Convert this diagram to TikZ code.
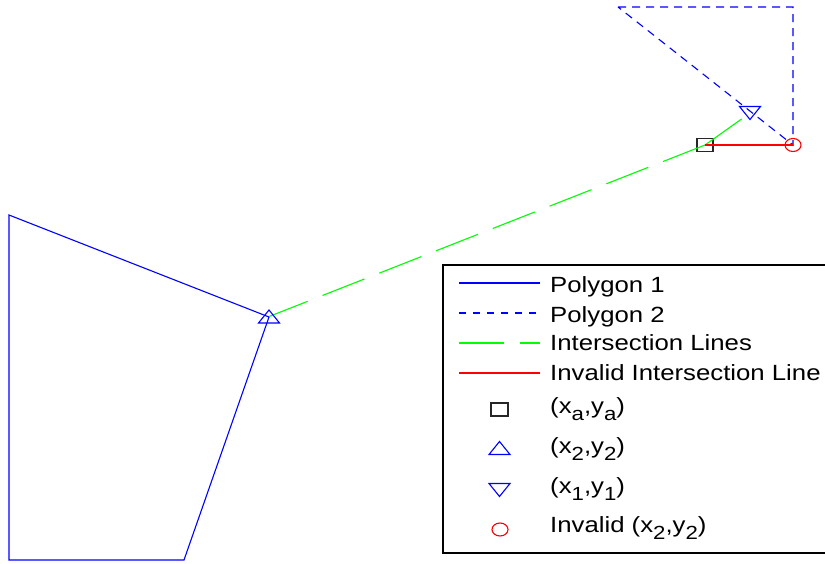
\documentclass[tikz,border=0pt]{standalone}
\usepackage{fontspec}
\setmainfont{Liberation Sans}
\usetikzlibrary{shapes.geometric}
\newcommand{\legtxt}[1]{\scalebox{1.17}[1]{\fontsize{22}{24}\selectfont #1}}
\newcommand{\sbx}[1]{\raisebox{-7pt}{\fontsize{19}{19}\selectfont #1}}
\definecolor{pblue}{RGB}{0,0,255}
\definecolor{pgreen}{RGB}{0,255,0}
\definecolor{pred}{RGB}{255,0,0}
\tikzset{
  poly1/.style={draw=pblue, line width=1.1pt},
  poly2/.style={draw=pblue, line width=1.1pt, dash pattern=on 8pt off 6pt},
  legdash/.style={draw=pblue, line width=1.1pt, dash pattern=on 7pt off 7pt},
  isect/.style={draw=pgreen, line width=1.1pt, dash pattern=on 45pt off 16pt},
  invline/.style={draw=pred, line width=1.1pt},
  mkbox/.style={inner sep=0pt, outer sep=0pt, minimum width=21pt, minimum height=13pt},
  sqmark/.style={draw=black!85, line width=1.1pt, inner sep=0pt, minimum width=16pt, minimum height=13pt},
  circmark/.style={draw=pred, ellipse, line width=1.1pt, inner sep=0pt, minimum width=16pt, minimum height=13pt},
  trimark/.style={draw=pblue, line width=1.1pt},
  legtext/.style={anchor=base west, inner sep=0pt},
}
\begin{document}
\begin{tikzpicture}[x=1pt, y=-1pt]
\useasboundingbox (0,0) rectangle (825,563);
\clip (0,0) rectangle (825,563);
% polygon 1
\coordinate (p1a) at (9,215);
\coordinate (p1b) at (9,560);
\coordinate (p1c) at (184,560);
\coordinate (p1d) at (269,317);
\draw[poly1] (p1a) -- (p1b) -- (p1c) -- (p1d) -- cycle;
% polygon 2
\coordinate (p2a) at (618,7);
\coordinate (p2b) at (793,7);
\coordinate (p2c) at (793,145);
\draw[poly2] (p2a) -- (p2b) -- (p2c) -- cycle;
% markers on the plot
\node[mkbox] (x2) at (269,316.5) {};
\node[mkbox] (x1) at (750,113) {};
\node[sqmark] (xa) at (705,145) {};
\node[circmark] (inv) at (793,145) {};
% intersection lines
\draw[isect] (xa.center) -- (x2.center);
\draw[isect] (xa.center) -- (x1.center);
\draw[invline] (xa.center) -- (inv.center);
\draw[trimark] (x2.south west) -- (x2.south east) -- (x2.north) -- cycle;
\draw[trimark] (x1.north west) -- (x1.north east) -- (x1.south) -- cycle;
% legend
\draw[fill=white, line width=1.4pt] (443,265) rectangle (840,553);
\coordinate (l1a) at (459,283); \coordinate (l1b) at (540,283);
\coordinate (l2a) at (459,313); \coordinate (l2b) at (540,313);
\coordinate (l3a) at (459,343); \coordinate (l3b) at (540,343);
\coordinate (l4a) at (459,373); \coordinate (l4b) at (540,373);
\draw[poly1] (l1a) -- (l1b);
\draw[legdash] (l2a) -- (l2b);
\draw[isect] (l3a) -- (l3b);
\draw[invline] (l4a) -- (l4b);
\node[legtext] (t1) at (550,292) {\legtxt{Polygon 1}};
\node[legtext] (t2) at (550,322) {\legtxt{Polygon 2}};
\node[legtext] (t3) at (550,350) {\legtxt{Intersection Lines}};
\node[legtext] (t4) at (550,380) {\legtxt{Invalid Intersection Line}};
\node[sqmark, minimum width=17pt] (m5) at (499.5,409.5) {};
\node[mkbox] (m6) at (499.5,448) {};
\draw[trimark] (m6.south west) -- (m6.south east) -- (m6.north) -- cycle;
\node[mkbox] (m7) at (499.5,490) {};
\draw[trimark] (m7.north west) -- (m7.north east) -- (m7.south) -- cycle;
\node[circmark] (m8) at (500,529.5) {};
\node[legtext] (t5) at (550,413) {\legtxt{(x\sbx{a},y\sbx{a})}};
\node[legtext] (t6) at (550,453) {\legtxt{(x\sbx{2},y\sbx{2})}};
\node[legtext] (t7) at (550,493) {\legtxt{(x\sbx{1},y\sbx{1})}};
\node[legtext] (t8) at (550,532) {\legtxt{Invalid (x\sbx{2},y\sbx{2})}};
\end{tikzpicture}
\end{document}
